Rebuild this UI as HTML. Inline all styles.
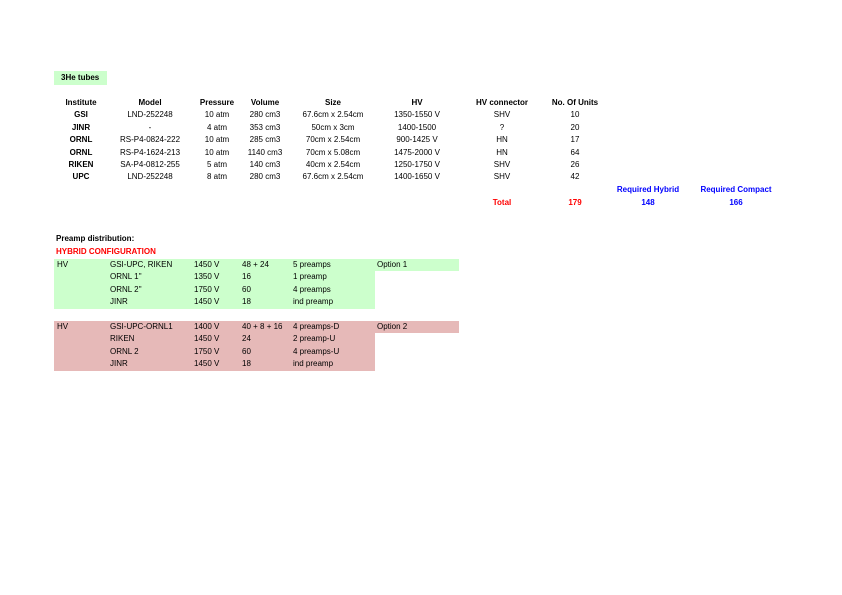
<!DOCTYPE html>
<html><head><meta charset="utf-8"><style>
body{margin:0;width:842px;height:595px;background:#fff;position:relative;overflow:hidden;font-family:"Liberation Sans",sans-serif;font-size:8px;color:#000}
div{position:absolute;white-space:nowrap;line-height:10px}
.c{transform:translateX(-50%)}
.b{font-weight:bold}
.red{color:#f00}.blue{color:#00f}
.bg{position:absolute}
</style></head><body>
<div class="bg" style="left:54px;top:71px;width:53px;height:14px;background:#ccffcc"></div>
<div class="b" style="left:61px;top:73px">3He tubes</div>

<div style="left:0;top:0;width:842px;height:220px">
<div class="c b" style="left:81px;top:98px">Institute</div>
<div class="c b" style="left:150px;top:98px">Model</div>
<div class="c b" style="left:217px;top:98px">Pressure</div>
<div class="c b" style="left:265px;top:98px">Volume</div>
<div class="c b" style="left:333px;top:98px">Size</div>
<div class="c b" style="left:417px;top:98px">HV</div>
<div class="c b" style="left:502px;top:98px">HV connector</div>
<div class="c b" style="left:575px;top:98px">No. Of Units</div>

<div class="c b" style="left:81px;top:110px">GSI</div><div class="c" style="left:150px;top:110px">LND-252248</div><div class="c" style="left:217px;top:110px">10 atm</div><div class="c" style="left:265px;top:110px">280 cm3</div><div class="c" style="left:333px;top:110px">67.6cm x 2.54cm</div><div class="c" style="left:417px;top:110px">1350-1550 V</div><div class="c" style="left:502px;top:110px">SHV</div><div class="c" style="left:575px;top:110px">10</div>

<div class="c b" style="left:81px;top:123px">JINR</div><div class="c" style="left:150px;top:123px">-</div><div class="c" style="left:217px;top:123px">4 atm</div><div class="c" style="left:265px;top:123px">353 cm3</div><div class="c" style="left:333px;top:123px">50cm x 3cm</div><div class="c" style="left:417px;top:123px">1400-1500</div><div class="c" style="left:502px;top:123px">?</div><div class="c" style="left:575px;top:123px">20</div>

<div class="c b" style="left:81px;top:135px">ORNL</div><div class="c" style="left:150px;top:135px">RS-P4-0824-222</div><div class="c" style="left:217px;top:135px">10 atm</div><div class="c" style="left:265px;top:135px">285 cm3</div><div class="c" style="left:333px;top:135px">70cm x 2.54cm</div><div class="c" style="left:417px;top:135px">900-1425 V</div><div class="c" style="left:502px;top:135px">HN</div><div class="c" style="left:575px;top:135px">17</div>

<div class="c b" style="left:81px;top:148px">ORNL</div><div class="c" style="left:150px;top:148px">RS-P4-1624-213</div><div class="c" style="left:217px;top:148px">10 atm</div><div class="c" style="left:265px;top:148px">1140 cm3</div><div class="c" style="left:333px;top:148px">70cm x 5.08cm</div><div class="c" style="left:417px;top:148px">1475-2000 V</div><div class="c" style="left:502px;top:148px">HN</div><div class="c" style="left:575px;top:148px">64</div>

<div class="c b" style="left:81px;top:160px">RIKEN</div><div class="c" style="left:150px;top:160px">SA-P4-0812-255</div><div class="c" style="left:217px;top:160px">5 atm</div><div class="c" style="left:265px;top:160px">140 cm3</div><div class="c" style="left:333px;top:160px">40cm x 2.54cm</div><div class="c" style="left:417px;top:160px">1250-1750 V</div><div class="c" style="left:502px;top:160px">SHV</div><div class="c" style="left:575px;top:160px">26</div>

<div class="c b" style="left:81px;top:172px">UPC</div><div class="c" style="left:150px;top:172px">LND-252248</div><div class="c" style="left:217px;top:172px">8 atm</div><div class="c" style="left:265px;top:172px">280 cm3</div><div class="c" style="left:333px;top:172px">67.6cm x 2.54cm</div><div class="c" style="left:417px;top:172px">1400-1650 V</div><div class="c" style="left:502px;top:172px">SHV</div><div class="c" style="left:575px;top:172px">42</div>

<div class="c b blue" style="left:648px;top:185px">Required Hybrid</div>
<div class="c b blue" style="left:736px;top:185px">Required Compact</div>
<div class="c b red" style="left:502px;top:198px">Total</div>
<div class="c b red" style="left:575px;top:198px">179</div>
<div class="c b blue" style="left:648px;top:198px">148</div>
<div class="c b blue" style="left:736px;top:198px">166</div>
</div>

<div class="b" style="left:56px;top:234px">Preamp distribution:</div>
<div class="b red" style="left:56px;top:247px">HYBRID CONFIGURATION</div>

<div class="bg" style="left:54px;top:259px;width:405px;height:12px;background:#ccffcc"></div>
<div class="bg" style="left:54px;top:271px;width:321px;height:38px;background:#ccffcc"></div>
<div class="bg" style="left:54px;top:321px;width:405px;height:12px;background:#e6b9b8"></div>
<div class="bg" style="left:54px;top:333px;width:321px;height:38px;background:#e6b9b8"></div>

<div style="left:0;top:0">
<div style="left:57px;top:260px">HV</div><div style="left:110px;top:260px">GSI-UPC, RIKEN</div><div style="left:194px;top:260px">1450 V</div><div style="left:242px;top:260px">48 + 24</div><div style="left:293px;top:260px">5 preamps</div><div style="left:377px;top:260px">Option 1</div>
<div style="left:110px;top:272px">ORNL 1''</div><div style="left:194px;top:272px">1350 V</div><div style="left:242px;top:272px">16</div><div style="left:293px;top:272px">1 preamp</div>
<div style="left:110px;top:285px">ORNL 2''</div><div style="left:194px;top:285px">1750 V</div><div style="left:242px;top:285px">60</div><div style="left:293px;top:285px">4 preamps</div>
<div style="left:110px;top:297px">JINR</div><div style="left:194px;top:297px">1450 V</div><div style="left:242px;top:297px">18</div><div style="left:293px;top:297px">ind preamp</div>
</div>
<div style="left:0;top:0">
<div style="left:57px;top:322px">HV</div><div style="left:110px;top:322px">GSI-UPC-ORNL1</div><div style="left:194px;top:322px">1400 V</div><div style="left:242px;top:322px">40 + 8 + 16</div><div style="left:293px;top:322px">4 preamps-D</div><div style="left:377px;top:322px">Option 2</div>
<div style="left:110px;top:334px">RIKEN</div><div style="left:194px;top:334px">1450 V</div><div style="left:242px;top:334px">24</div><div style="left:293px;top:334px">2 preamp-U</div>
<div style="left:110px;top:347px">ORNL 2</div><div style="left:194px;top:347px">1750 V</div><div style="left:242px;top:347px">60</div><div style="left:293px;top:347px">4 preamps-U</div>
<div style="left:110px;top:359px">JINR</div><div style="left:194px;top:359px">1450 V</div><div style="left:242px;top:359px">18</div><div style="left:293px;top:359px">ind preamp</div>
</div>
</body></html>
